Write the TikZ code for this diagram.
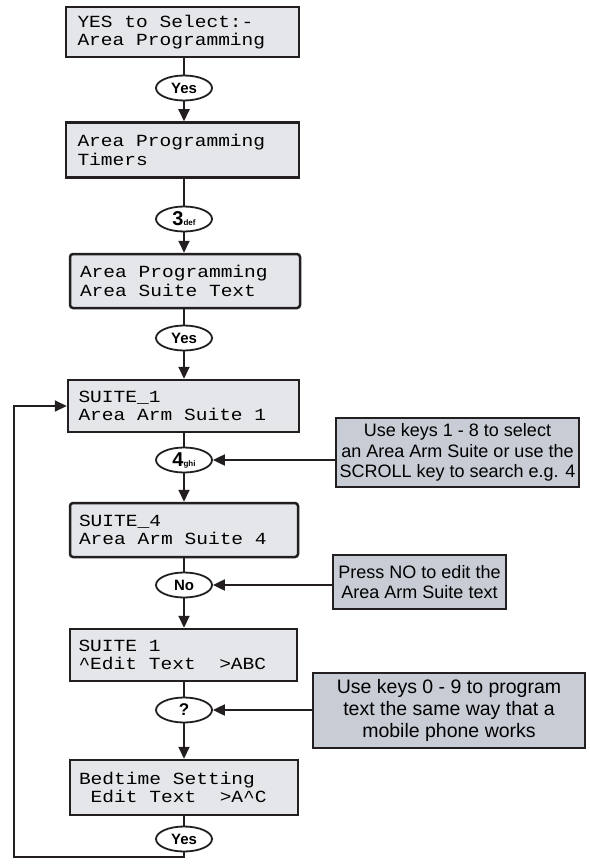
\documentclass[tikz,border=0pt]{standalone}
\usepackage{fontspec}
\setmainfont{Liberation Sans}
\newfontfamily\lcd[FakeStretch=1.15]{Liberation Mono}
\newcommand\lcdfont{\lcd\fontsize{17}{18.5}\selectfont}
\newcommand\ls{\hspace*{11.73pt}}
\usetikzlibrary{arrows.meta,shapes.geometric}
\definecolor{lcdfill}{RGB}{228,230,234}
\definecolor{notefill}{RGB}{200,204,212}
\definecolor{ink}{RGB}{35,31,32}
\begin{document}
\begin{tikzpicture}[x=1pt,y=-1pt,
  lcdbox/.style={draw=ink, line width=2.5pt, fill=lcdfill, minimum width=230pt,
    minimum height=53pt, inner sep=0pt, text width=210pt, align=left,
    font=\lcdfont},
  oval/.style={ellipse, draw=ink, line width=1.8pt, fill=white, minimum width=56pt,
    minimum height=25pt, inner sep=0pt, font=\bfseries\fontsize{15}{15}\selectfont},
  note/.style={draw=ink, line width=2pt, fill=notefill, align=center, inner sep=0pt,
    font=\fontsize{18}{20.5}\selectfont},
  ln/.style={line width=2pt, draw=ink},
  arr/.style={line width=2pt, draw=ink, -{Triangle[length=12pt,width=11pt]}}]
\useasboundingbox (0,0) rectangle (589,864);
% LCD boxes
\node[lcdbox, minimum width=233pt, minimum height=50pt] (b1) at (182.5,32) {YES\ls to\ls Select:-\\Area\ls Programming};
\node[lcdbox, minimum width=233pt, minimum height=55pt] (b2) at (182.5,150) {Area\ls Programming\\Timers};
\node[lcdbox, rounded corners=3pt, minimum width=230pt, minimum height=54pt] (b3) at (185,281) {Area\ls Programming\\Area\ls Suite\ls Text};
\node[lcdbox, minimum width=231pt, minimum height=52pt] (b4) at (183.5,406) {SUITE\_1\\Area\ls Arm\ls Suite\ls 1};
\node[lcdbox, rounded corners=3pt, minimum width=228pt, minimum height=54pt] (b5) at (184,530) {SUITE\_4\\Area\ls Arm\ls Suite\ls 4};
\node[lcdbox, minimum width=227pt, minimum height=52pt] (b6) at (183.5,655) {SUITE\ls 1\\\textasciicircum Edit\ls Text\ls\ls >ABC};
\node[lcdbox, minimum width=228pt, minimum height=55pt] (b7) at (184,787.5) {Bedtime\ls Setting\\\ls Edit\ls Text\ls\ls >A\textasciicircum C};
% key ovals
\node[oval] (o1) at (184,88) {Yes};
\node[oval] (o2) at (184,219) {\fontsize{20}{20}\selectfont 3\fontsize{8}{8}\selectfont def};
\node[oval] (o3) at (184,338) {Yes};
\node[oval] (o4) at (184,460) {\fontsize{20}{20}\selectfont 4\fontsize{8}{8}\selectfont ghi};
\node[oval] (o5) at (184,585) {No};
\node[oval] (o6) at (184,710) {\fontsize{17}{17}\selectfont ?};
\node[oval] (o7) at (184,839) {Yes};
% notes
\node[note, minimum width=243pt, minimum height=69pt] (n1) at (457.5,452.5) {Use keys 1 - 8 to select\\an Area Arm Suite or use the\\SCROLL key to search e.g. 4};
\node[note, minimum width=173pt, minimum height=54pt] (n2) at (419.5,582) {Press NO to edit the\\Area Arm Suite text};
\node[note, minimum width=272pt, minimum height=75pt, font=\fontsize{19.5}{22}\selectfont] (n3) at (449,710.5) {Use keys 0 - 9 to program\\text the same way that a\\mobile phone works};
% main flow
\draw[ln] (o1.north |- b1.south) -- (o1.north);
\draw[arr] (o1.south) -- (o1.south |- b2.north);
\draw[ln] (o2.north |- b2.south) -- (o2.north);
\draw[arr] (o2.south) -- (o2.south |- b3.north);
\draw[ln] (o3.north |- b3.south) -- (o3.north);
\draw[arr] (o3.south) -- (o3.south |- b4.north);
\draw[ln] (o4.north |- b4.south) -- (o4.north);
\draw[arr] (o4.south) -- (o4.south |- b5.north);
\draw[ln] (o5.north |- b5.south) -- (o5.north);
\draw[arr] (o5.south) -- (o5.south |- b6.north);
\draw[ln] (o6.north |- b6.south) -- (o6.north);
\draw[arr] (o6.south) -- (o6.south |- b7.north);
\draw[ln] (o7.north |- b7.south) -- (o7.north);
% notes to ovals
\draw[arr] (n1.west |- o4) -- (o4.east);
\draw[arr] (n2.west |- o5) -- (o5.east);
\draw[arr] (n3.west |- o6) -- (o6.east);
% loop back
\coordinate (lb) at (14,857);
\draw[arr, line join=miter] (o7.south) |- (lb) |- (b4.west);
\end{tikzpicture}
\end{document}
